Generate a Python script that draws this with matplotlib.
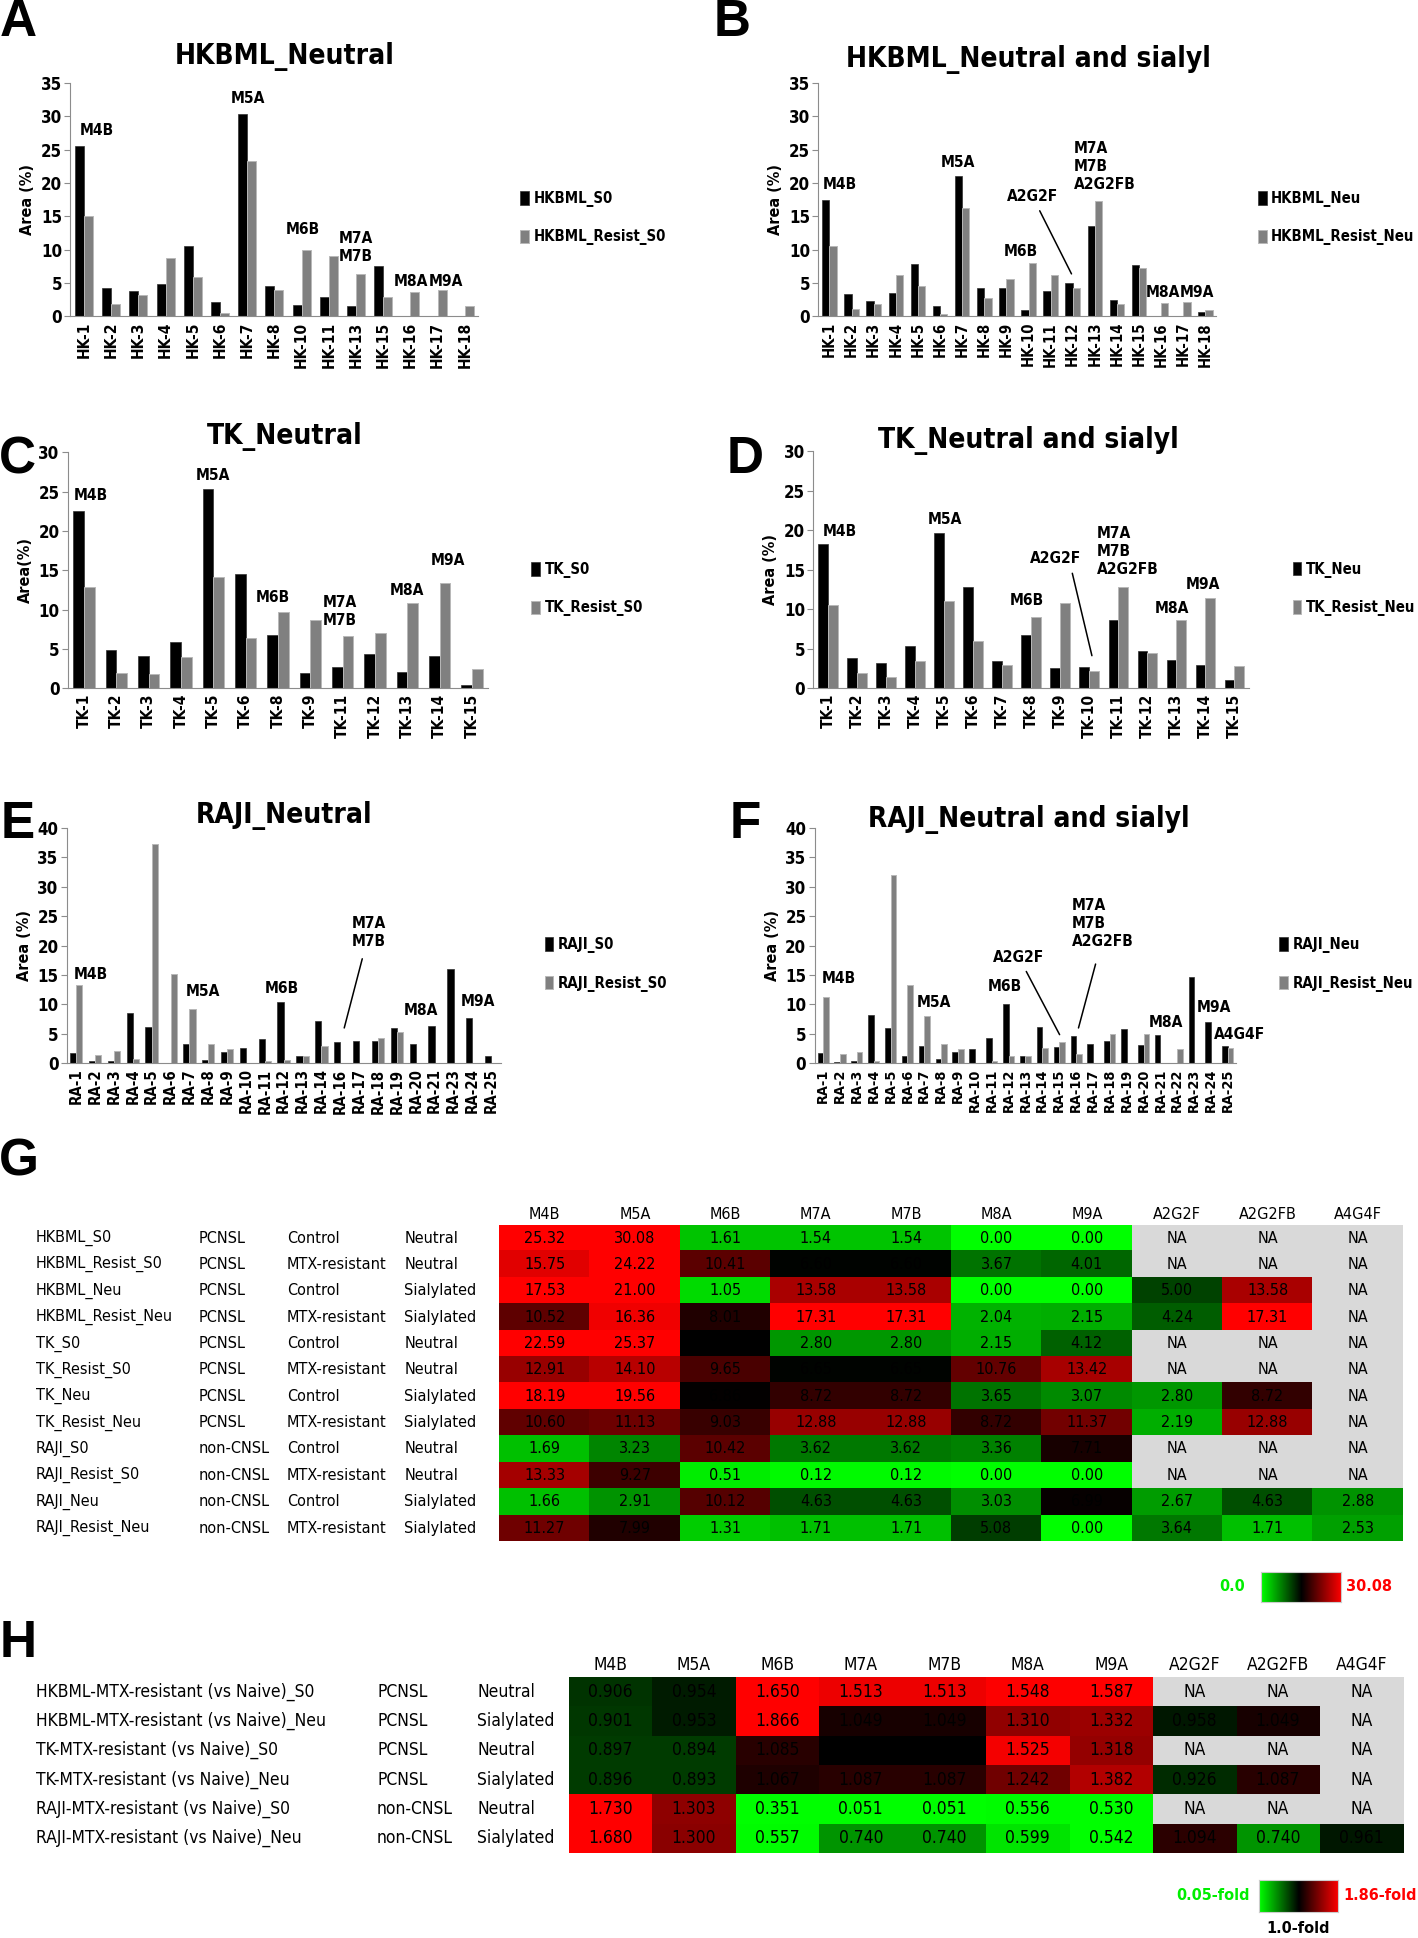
import numpy as np
import matplotlib.pyplot as plt
import matplotlib.transforms as transforms
from matplotlib import font_manager
from matplotlib.colors import LinearSegmentedColormap, Normalize

# narrow bold look of the original: take a narrow/condensed face if there is one
fonts = [(f.name, str(f.stretch)) for f in font_manager.fontManager.ttflist]
if any(n == 'Liberation Sans Narrow' for n, s in fonts):
    plt.rcParams['font.family'] = ['Liberation Sans Narrow', 'DejaVu Sans']
    K = 1.0
elif any(n == 'DejaVu Sans' and 'condensed' in s for n, s in fonts):
    plt.rcParams['font.family'] = ['DejaVu Sans']
    plt.rcParams['font.stretch'] = 'condensed'
    K = 0.86
else:
    plt.rcParams['font.family'] = ['Liberation Sans', 'DejaVu Sans']
    K = 0.84

# ---------------- bar chart data ----------------
hk_a = ['HK-1', 'HK-2', 'HK-3', 'HK-4', 'HK-5', 'HK-6', 'HK-7', 'HK-8', 'HK-10',
        'HK-11', 'HK-13', 'HK-15', 'HK-16', 'HK-17', 'HK-18']
hkbml_s0 = [25.6, 4.3, 3.8, 4.9, 10.6, 2.2, 30.4, 4.5, 1.7, 2.9, 1.6, 7.5, 0, 0, 0]
hkbml_resist_s0 = [15.1, 1.9, 3.2, 8.8, 5.9, 0.5, 23.3, 4.0, 10.0, 9.1, 6.4, 2.9, 3.6, 3.9, 1.6]

hk_b = ['HK-%d' % i for i in range(1, 19)]
hkbml_neu = [17.5, 3.3, 2.3, 3.5, 7.9, 1.5, 21.0, 4.2, 4.2, 1.0, 3.8, 5.0, 13.6, 2.5, 7.7, 0, 0, 0.7]
hkbml_resist_neu = [10.5, 1.1, 1.9, 6.2, 4.6, 0.3, 16.3, 2.8, 5.6, 8.0, 6.2, 4.2, 17.3, 1.9, 7.3, 2.0, 2.1, 1.0]

tk_c = ['TK-1', 'TK-2', 'TK-3', 'TK-4', 'TK-5', 'TK-6', 'TK-8', 'TK-9', 'TK-11',
        'TK-12', 'TK-13', 'TK-14', 'TK-15']
tk_s0 = [22.6, 4.9, 4.1, 5.9, 25.4, 14.6, 6.8, 1.9, 2.7, 4.4, 2.1, 4.1, 0.5]
tk_resist_s0 = [12.9, 2.0, 1.8, 4.0, 14.1, 6.4, 9.7, 8.7, 6.6, 7.0, 10.8, 13.4, 2.5]

tk_d = ['TK-%d' % i for i in range(1, 16)]
tk_neu = [18.2, 3.9, 3.2, 5.4, 19.6, 12.8, 3.5, 6.8, 2.6, 2.7, 8.7, 4.7, 3.6, 3.0, 1.1]
tk_resist_neu = [10.6, 1.9, 1.5, 3.5, 11.1, 6.0, 2.9, 9.0, 10.8, 2.2, 12.8, 4.5, 8.7, 11.4, 2.8]

ra_e = ['RA-%d' % i for i in [1, 2, 3, 4, 5, 6, 7, 8, 9, 10, 11, 12, 13, 14, 16,
                             17, 18, 19, 20, 21, 23, 24, 25]]
raji_s0 = [1.7, 0.3, 0.3, 8.5, 6.2, 0, 3.2, 0.45, 1.9, 2.5, 4.1, 10.4, 1.2, 7.2, 3.6,
           3.7, 3.8, 6.0, 3.3, 6.3, 16.0, 7.7, 1.1]
raji_resist_s0 = [13.3, 1.4, 2.0, 0.6, 37.3, 15.1, 9.2, 3.3, 2.4, 0, 0.4, 0.45, 1.2, 2.9, 0,
                  0, 4.2, 5.2, 0, 0, 0, 0, 0]

ra_f = ['RA-%d' % i for i in range(1, 26)]
raji_neu = [1.7, 0.2, 0.3, 8.1, 6.0, 1.2, 2.9, 0.6, 1.8, 2.4, 4.2, 10.1, 1.2, 6.2, 2.7,
            4.6, 3.3, 3.7, 5.8, 3.0, 4.7, 0, 14.7, 6.9, 2.8]
raji_resist_neu = [11.2, 1.5, 1.8, 0.3, 32.0, 13.2, 8.0, 3.2, 2.4, 0, 0.3, 1.2, 1.2, 2.5, 3.6,
                   1.6, 0, 5.0, 0, 5.0, 0, 2.4, 0, 0, 2.5]

# ---------------- heatmap data ----------------
glycans = ['M4B', 'M5A', 'M6B', 'M7A', 'M7B', 'M8A', 'M9A', 'A2G2F', 'A2G2FB', 'A4G4F']
NA = np.nan
g_rows = ['HKBML_S0', 'HKBML_Resist_S0', 'HKBML_Neu', 'HKBML_Resist_Neu', 'TK_S0',
          'TK_Resist_S0', 'TK_Neu', 'TK_Resist_Neu', 'RAJI_S0', 'RAJI_Resist_S0',
          'RAJI_Neu', 'RAJI_Resist_Neu']
g_type = ['PCNSL'] * 8 + ['non-CNSL'] * 4
g_cond = ['Control', 'MTX-resistant'] * 6
g_glyc = ['Neutral', 'Neutral', 'Sialylated', 'Sialylated'] * 3
g_vals = [
    [25.32, 30.08, 1.61, 1.54, 1.54, 0.00, 0.00, NA, NA, NA],
    [15.75, 24.22, 10.41, 6.60, 6.60, 3.67, 4.01, NA, NA, NA],
    [17.53, 21.00, 1.05, 13.58, 13.58, 0.00, 0.00, 5.00, 13.58, NA],
    [10.52, 16.36, 8.01, 17.31, 17.31, 2.04, 2.15, 4.24, 17.31, NA],
    [22.59, 25.37, 6.79, 2.80, 2.80, 2.15, 4.12, NA, NA, NA],
    [12.91, 14.10, 9.65, 6.65, 6.65, 10.76, 13.42, NA, NA, NA],
    [18.19, 19.56, 6.86, 8.72, 8.72, 3.65, 3.07, 2.80, 8.72, NA],
    [10.60, 11.13, 9.03, 12.88, 12.88, 8.72, 11.37, 2.19, 12.88, NA],
    [1.69, 3.23, 10.42, 3.62, 3.62, 3.36, 7.71, NA, NA, NA],
    [13.33, 9.27, 0.51, 0.12, 0.12, 0.00, 0.00, NA, NA, NA],
    [1.66, 2.91, 10.12, 4.63, 4.63, 3.03, 6.99, 2.67, 4.63, 2.88],
    [11.27, 7.99, 1.31, 1.71, 1.71, 5.08, 0.00, 3.64, 1.71, 2.53],
]

h_rows = ['HKBML-MTX-resistant (vs Naive)_S0', 'HKBML-MTX-resistant (vs Naive)_Neu',
          'TK-MTX-resistant (vs Naive)_S0', 'TK-MTX-resistant (vs Naive)_Neu',
          'RAJI-MTX-resistant (vs Naive)_S0', 'RAJI-MTX-resistant (vs Naive)_Neu']
h_type = ['PCNSL'] * 4 + ['non-CNSL'] * 2
h_glyc = ['Neutral', 'Sialylated'] * 3
h_vals = [
    [0.906, 0.954, 1.650, 1.513, 1.513, 1.548, 1.587, NA, NA, NA],
    [0.901, 0.953, 1.866, 1.049, 1.049, 1.310, 1.332, 0.958, 1.049, NA],
    [0.897, 0.894, 1.085, 0.998, 0.998, 1.525, 1.318, NA, NA, NA],
    [0.896, 0.893, 1.067, 1.087, 1.087, 1.242, 1.382, 0.926, 1.087, NA],
    [1.730, 1.303, 0.351, 0.051, 0.051, 0.556, 0.530, NA, NA, NA],
    [1.680, 1.300, 0.557, 0.740, 0.740, 0.599, 0.542, 1.094, 0.740, 0.961],
]

# layout is measured on a 1147 x 1568 copy of the figure
W, H = 1147.0, 1568.0


def rect(x0, y0, x1, y1):
    return [x0 / W, 1 - y1 / H, (x1 - x0) / W, (y1 - y0) / H]


def ftext(x, y, s, **kw):
    fig.text(x / W, 1 - y / H, s, **kw)


fig = plt.figure(figsize=(14.18, 19.38), dpi=100)

# panel letters
for let, (lx, ly) in {'A': (15, 18), 'B': (592, 18), 'C': (14, 372), 'D': (603, 372),
                      'E': (14, 667), 'F': (603, 667), 'G': (15, 940), 'H': (15, 1330)}.items():
    ftext(lx, ly, let, family=['Liberation Sans', 'DejaVu Sans'], stretch='normal',
          weight='bold', fontsize=37, ha='center', va='center')


def bar_panel(r, cats, s1, s2, names, ymax, title, tpos, ylabel, notes, lines, xfs=13):
    ax = fig.add_axes(rect(*r))
    x = np.arange(len(cats))
    w = 0.33
    ax.bar(x - w / 2, s1, w, color='black', edgecolor='#303030', lw=0.5, label=names[0])
    ax.bar(x + w / 2, s2, w, color='#808080', edgecolor='#b8b8b8', lw=0.7, label=names[1])
    ax.set_xlim(-0.5, len(cats) - 0.5)
    ax.set_ylim(0, ymax)
    ax.set_yticks(np.arange(0, ymax + 1, 5))
    ax.set_xticks(x)
    ax.set_xticklabels(cats, rotation=90, fontsize=xfs * K, weight='bold')
    for t in ax.get_yticklabels():
        t.set_fontsize(14 * K)
        t.set_weight('bold')
    for s in ['top', 'right']:
        ax.spines[s].set_visible(False)
    for s in ['left', 'bottom']:
        ax.spines[s].set_color('#8c8c8c')
    ax.tick_params(axis='x', length=0, pad=4)
    ax.tick_params(axis='y', length=4, color='#8c8c8c', pad=2)
    ax.set_ylabel(ylabel, fontsize=13.5 * K, weight='bold', labelpad=4)
    ax.legend(loc='center left', bbox_to_anchor=(1.07, 0.42), frameon=False,
              handlelength=0.6, handleheight=1.0, handletextpad=0.3,
              labelspacing=1.5, prop={'weight': 'bold', 'size': 12.5 * K})
    ftext(tpos[0], tpos[1], title, fontsize=23.5 * K, weight='bold', ha='center', va='center')
    for lab, nx, ny, ha in notes:
        ax.text(nx, ny, lab, fontsize=13 * K, weight='bold', ha=ha, va='center',
                multialignment='left', linespacing=1.25)
    for (x0, y0), (x1, y1) in lines:
        ax.annotate('', xy=(x1, y1), xytext=(x0, y0),
                    arrowprops=dict(arrowstyle='-', color='black', lw=1.1))
    return ax


bar_panel((57, 67, 387, 256), hk_a, hkbml_s0, hkbml_resist_s0, ['HKBML_S0', 'HKBML_Resist_S0'],
          35, 'HKBML_Neutral', (230, 46), 'Area (%)',
          [('M4B', 0.46, 27.8, 'center'), ('M5A', 6.04, 32.6, 'center'),
           ('M6B', 8.06, 13.0, 'center'), ('M7A\nM7B', 10.0, 10.3, 'center'),
           ('M8A', 12.0, 5.3, 'center'), ('M9A', 13.3, 5.3, 'center')], [])

bar_panel((662, 67, 984, 256), hk_b, hkbml_neu, hkbml_resist_neu, ['HKBML_Neu', 'HKBML_Resist_Neu'],
          35, 'HKBML_Neutral and sialyl', (832, 48), 'Area (%)',
          [('M4B', 0.49, 19.7, 'center'), ('M5A', 5.83, 23.0, 'center'),
           ('M6B', 8.67, 9.7, 'center'), ('A2G2F', 9.2, 17.9, 'center'),
           ('M7A\nM7B\nA2G2FB', 11.05, 22.5, 'left'),
           ('M8A', 15.1, 3.6, 'center'), ('M9A', 16.6, 3.6, 'center')],
          [((9.45, 16.2), (11.0, 6.0))], xfs=12.5)

bar_panel((55, 366, 395, 557), tk_c, tk_s0, tk_resist_s0, ['TK_S0', 'TK_Resist_S0'],
          30, 'TK_Neutral', (230, 353), 'Area(%)',
          [('M4B', 0.2, 24.5, 'center'), ('M5A', 3.99, 27.0, 'center'),
           ('M6B', 5.82, 11.6, 'center'), ('M7A\nM7B', 7.9, 9.8, 'center'),
           ('M8A', 9.97, 12.5, 'center'), ('M9A', 11.26, 16.3, 'center')], [])

bar_panel((658, 365, 1010, 557), tk_d, tk_neu, tk_resist_neu, ['TK_Neu', 'TK_Resist_Neu'],
          30, 'TK_Neutral and sialyl', (832, 356), 'Area (%)',
          [('M4B', 0.42, 19.9, 'center'), ('M5A', 4.03, 21.4, 'center'),
           ('M6B', 6.87, 11.1, 'center'), ('A2G2F', 7.84, 16.4, 'center'),
           ('M7A\nM7B\nA2G2FB', 9.28, 17.3, 'left'),
           ('M8A', 11.87, 10.1, 'center'), ('M9A', 12.93, 13.1, 'center')],
          [((8.4, 14.9), (9.12, 3.8))])

bar_panel((54, 670, 405, 860), ra_e, raji_s0, raji_resist_s0, ['RAJI_S0', 'RAJI_Resist_S0'],
          40, 'RAJI_Neutral', (230, 660), 'Area (%)',
          [('M4B', 0.8, 15.1, 'center'), ('M5A', 6.7, 12.1, 'center'),
           ('M6B', 10.9, 12.6, 'center'), ('M7A\nM7B', 15.5, 22.3, 'center'),
           ('M8A', 18.25, 9.0, 'center'), ('M9A', 21.3, 10.5, 'center')],
          [((15.2, 18.2), (14.17, 5.5))], xfs=12.5)

bar_panel((659, 670, 1000, 860), ra_f, raji_neu, raji_resist_neu, ['RAJI_Neu', 'RAJI_Resist_Neu'],
          40, 'RAJI_Neutral and sialyl', (832, 663), 'Area (%)',
          [('M4B', 0.95, 14.3, 'center'), ('M5A', 6.57, 10.3, 'center'),
           ('M6B', 10.76, 13.0, 'center'), ('A2G2F', 11.57, 18.0, 'center'),
           ('M7A\nM7B\nA2G2FB', 14.76, 23.8, 'left'),
           ('M8A', 20.3, 6.9, 'center'), ('M9A', 23.2, 9.4, 'center'),
           ('A4G4F', 24.7, 4.9, 'center')],
          [((11.97, 16.0), (14.1, 4.4)), ((16.2, 17.3), (15.1, 5.5))], xfs=12)


# ---------------- heatmaps ----------------
def heatmap(r, vals, cmap, norm, fmt, label_cols, fs):
    ax = fig.add_axes(rect(*r))
    data = np.ma.masked_invalid(np.array(vals, dtype=float))
    ax.imshow(data, cmap=cmap, norm=norm, aspect='auto', interpolation='nearest')
    nr, nc = data.shape
    for i in range(nr):
        for j in range(nc):
            v = vals[i][j]
            s = 'NA' if np.isnan(v) else fmt % v
            ax.text(j, i, s, ha='center', va='center', fontsize=fs, color='black')
    for j, g in enumerate(glycans):
        ax.text(j, -0.62, g, ha='center', va='bottom', fontsize=fs)
    ax.set_xlim(-0.5, nc - 0.5)
    ax.set_ylim(nr - 0.5, -0.5)
    ax.axis('off')
    tr = transforms.blended_transform_factory(fig.transFigure, ax.transData)
    for xpos, labels in label_cols:
        for i, lab in enumerate(labels):
            ax.text(xpos / W, i, lab, transform=tr, ha='left', va='center', fontsize=fs,
                    clip_on=False)
    return ax


def gradient_key(r, left, right, lpos, rpos, under=None):
    kax = fig.add_axes(rect(*r))
    kmap = LinearSegmentedColormap.from_list('k', ['#00ff00', 'black', '#ff0000'])
    kax.imshow(np.linspace(0, 1, 256)[None, :], cmap=kmap, aspect='auto')
    kax.set_xticks([])
    kax.set_yticks([])
    for s in kax.spines.values():
        s.set_color('#cccccc')
    ftext(lpos[0], lpos[1], left, color='#00ee00', weight='bold', fontsize=13.5 * K,
          ha='center', va='center')
    ftext(rpos[0], rpos[1], right, color='#ff0000', weight='bold', fontsize=13.5 * K,
          ha='center', va='center')
    if under:
        ftext(under[1][0], under[1][1], under[0], weight='bold', fontsize=13.5 * K,
              ha='center', va='center')


g_cmap = LinearSegmentedColormap.from_list(
    'g', [(0, '#00ff00'), (6.7 / 30.08, '#000000'), (17 / 30.08, '#ff0000'), (1, '#ff0000')])
g_cmap.set_bad('#d9d9d9')
heatmap((404, 991, 1135, 1247), g_vals, g_cmap, Normalize(0, 30.08), '%.2f',
        [(29, g_rows), (161, g_type), (232, g_cond), (327, g_glyc)], 13.5 * K)
gradient_key((1020, 1272, 1085, 1296), '0.0', '30.08', (997, 1284), (1107, 1284))

h_lo, h_hi = 0.05, 1.86
h_cmap = LinearSegmentedColormap.from_list(
    'h', [(0, '#00ff00'), ((0.55 - h_lo) / (h_hi - h_lo), '#00ff00'),
          ((1.0 - h_lo) / (h_hi - h_lo), '#000000'),
          ((1.55 - h_lo) / (h_hi - h_lo), '#ff0000'), (1, '#ff0000')])
h_cmap.set_bad('#d9d9d9')
heatmap((460, 1357, 1135, 1499), h_vals, h_cmap, Normalize(h_lo, h_hi), '%.3f',
        [(29, h_rows), (305, h_type), (386, h_glyc)], 14.5 * K)
gradient_key((1018, 1521, 1082, 1547), '0.05-fold', '1.86-fold', (981, 1534), (1116, 1534),
             under=('1.0-fold', (1050, 1560)))

fig.savefig('out.png', dpi=100, facecolor='white')
